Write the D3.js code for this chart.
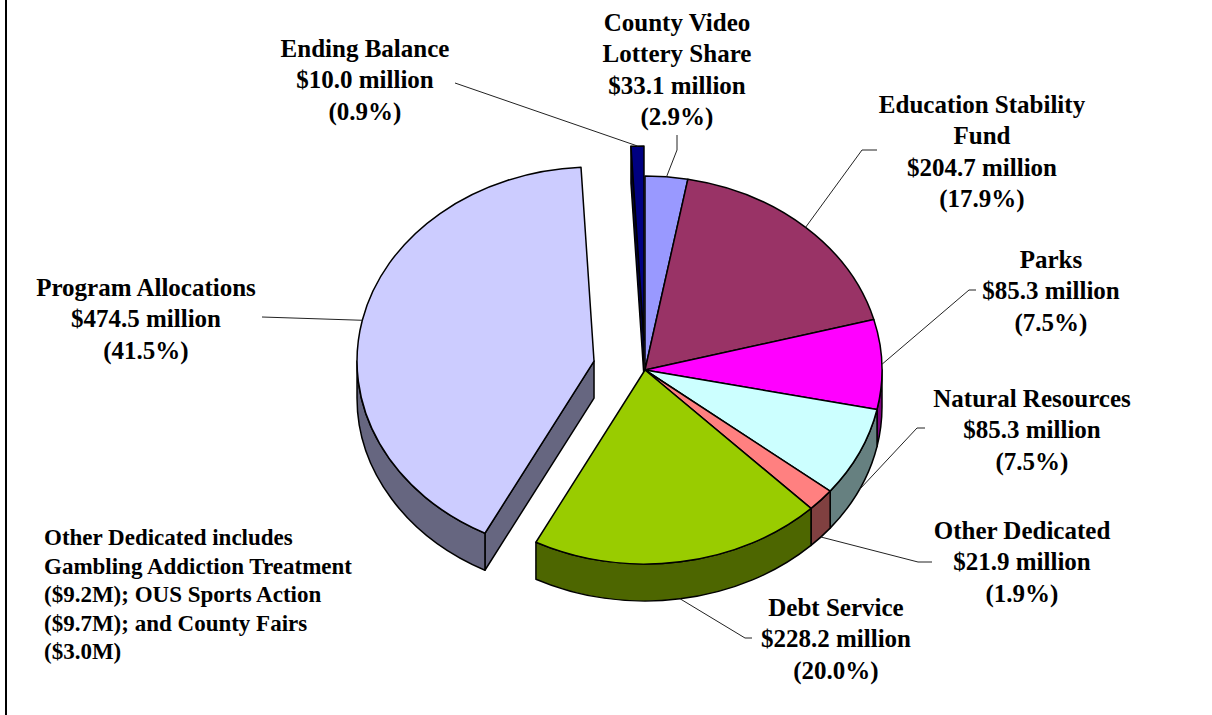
<!DOCTYPE html>
<html>
<head>
<meta charset="utf-8">
<script src="https://cdn.jsdelivr.net/npm/d3@7"></script>
<style>
  body { margin: 0; background: #fff; }
  svg { display: block; }
  text { font-family: "Liberation Serif", "Times New Roman", serif; font-weight: bold; fill: #000; }
</style>
</head>
<body>
<div id="chart"></div>
<script>
const width = 1212, height = 715;

// data
const categories = ["County Video Lottery Share", "Education Stability Fund", "Parks", "Natural Resources",
  "Other Dedicated", "Debt Service", "Program Allocations", "Ending Balance"];
const labelNames = [["County Video", "Lottery Share"], ["Education Stability", "Fund"], ["Parks"], ["Natural Resources"],
  ["Other Dedicated"], ["Debt Service"], ["Program Allocations"], ["Ending Balance"]];
const amounts = [33.1, 204.7, 85.3, 85.3, 21.9, 228.2, 474.5, 10.0];
const percents = [2.9, 17.9, 7.5, 7.5, 1.9, 20.0, 41.5, 0.9];
const footnote = ["Other Dedicated includes", "Gambling Addiction Treatment", "($9.2M); OUS Sports Action",
  "($9.7M); and County Fairs", "($3.0M)"];

// styles
const colors = ["#9999ff", "#993366", "#ff00ff", "#ccffff", "#ff8080", "#99cc00", "#ccccff", "#000080"];
const explode = [0, 0, 0, 0, 0, 0, 0.22, 0.155];

// label layout: text centre x, first line centre y, leader points from label side
const labelPos = [
  {x: 677, y: 22, pts: [[677, 135], [677, 150]]},
  {x: 982, y: 104, pts: [[877, 150], [862, 150]]},
  {x: 1051, y: 259, pts: [[976, 290], [969, 290]]},
  {x: 1032, y: 398, pts: [[925, 428], [917, 428]]},
  {x: 1022, y: 530, pts: [[932, 562], [918, 562]]},
  {x: 836, y: 607, pts: [[752, 638], [745, 638]]},
  {x: 146, y: 287, pts: [[262, 317]]},
  {x: 365, y: 48, pts: [[455, 83]]}
];

const cx = 645, cy = 370, rx = 237, ry = 194, depth = 37;
const lineH = 31.5;

const svg = d3.select("#chart").append("svg")
  .attr("width", width)
  .attr("height", height);

// left frame line
svg.append("line")
  .attr("x1", 6).attr("x2", 6).attr("y1", 0).attr("y2", height)
  .attr("stroke", "#000").attr("stroke-width", 2);

let pie = d3.pie().sort(null).value(d => d)(amounts);

function darker(c) {
  let r = d3.rgb(c);
  return d3.rgb(r.r * 0.5, r.g * 0.5, r.b * 0.5).formatHex();
}

let slices = pie.map((p, i) => {
  let mid = (p.startAngle + p.endAngle) / 2;
  let f = explode[i];
  return {
    i: i, a0: p.startAngle, a1: p.endAngle, mid: mid,
    ox: cx + f * rx * Math.sin(mid),
    oy: cy - f * ry * Math.cos(mid)
  };
});

function pt(s, a, dz) {
  return [s.ox + rx * Math.sin(a), s.oy - ry * Math.cos(a) + (dz || 0)];
}

function topPath(s) {
  let p0 = pt(s, s.a0), p1 = pt(s, s.a1);
  let large = (s.a1 - s.a0) > Math.PI ? 1 : 0;
  return `M${s.ox},${s.oy}L${p0}A${rx},${ry} 0 ${large} 1 ${p1}Z`;
}

function wallPath(s, a0, a1) {
  let p0 = pt(s, a0), p1 = pt(s, a1), q0 = pt(s, a0, depth), q1 = pt(s, a1, depth);
  let large = (a1 - a0) > Math.PI ? 1 : 0;
  return `M${p0}A${rx},${ry} 0 ${large} 1 ${p1}L${q1}A${rx},${ry} 0 ${large} 0 ${q0}Z`;
}

function facePath(s, a) {
  let p = pt(s, a);
  return `M${s.ox},${s.oy}L${p}L${p[0]},${p[1] + depth}L${s.ox},${s.oy + depth}Z`;
}

// collect side pieces
let walls = [];
let n = slices.length;
slices.forEach((s, i) => {
  // outer wall, front half only
  let w0 = Math.max(s.a0, Math.PI / 2), w1 = Math.min(s.a1, Math.PI * 1.5);
  if (w1 > w0) {
    let m = (w0 + w1) / 2;
    walls.push({d: wallPath(s, w0, w1), fill: darker(colors[i]), key: s.oy - ry * Math.cos(m)});
  }
  let prev = slices[(i - 1 + n) % n], next = slices[(i + 1) % n];
  if (explode[prev.i] !== explode[i] && Math.sin(s.a0) < 0) {
    walls.push({d: facePath(s, s.a0), fill: darker(colors[i]), key: s.oy - ry * Math.cos(s.a0) / 2});
  }
  if (explode[next.i] !== explode[i] && Math.sin(s.a1) > 0) {
    walls.push({d: facePath(s, s.a1), fill: darker(colors[i]), key: s.oy - ry * Math.cos(s.a1) / 2});
  }
});
walls.sort((a, b) => a.key - b.key);

let gPie = svg.append("g");

gPie.selectAll("path.wall")
  .data(walls)
  .enter()
  .append("path")
  .attr("class", "wall")
  .attr("d", d => d.d)
  .attr("fill", d => d.fill)
  .attr("stroke", "#000")
  .attr("stroke-width", 1.5)
  .attr("stroke-linejoin", "round");

gPie.selectAll("path.top")
  .data(slices)
  .enter()
  .append("path")
  .attr("class", "top")
  .attr("d", d => topPath(d))
  .attr("fill", d => colors[d.i])
  .attr("stroke", "#000")
  .attr("stroke-width", 1.5)
  .attr("stroke-linejoin", "round");

// leader lines
let gLines = svg.append("g");
slices.forEach((s, i) => {
  let anchor = pt(s, s.mid, Math.cos(s.mid) < 0 ? depth : 0);
  let pts = [anchor].concat(labelPos[i].pts.slice().reverse());
  gLines.append("path")
    .attr("d", d3.line()(pts))
    .attr("fill", "none")
    .attr("stroke", "#222")
    .attr("stroke-width", 1);
});

// labels
let gLabels = svg.append("g").style("font-size", "25px");
slices.forEach((s, i) => {
  let lines = labelNames[i].concat([`$${amounts[i].toFixed(1)} million`, `(${percents[i].toFixed(1)}%)`]);
  let t = gLabels.append("text")
    .attr("text-anchor", "middle");
  lines.forEach((l, k) => {
    t.append("tspan")
      .attr("x", labelPos[i].x)
      .attr("y", labelPos[i].y + k * lineH)
      .attr("dy", "0.35em")
      .text(l);
  });
});

// footnote
let fn = svg.append("text")
  .style("font-size", "23px");
footnote.forEach((l, k) => {
  fn.append("tspan")
    .attr("x", 44)
    .attr("y", 537 + k * 28.6)
    .attr("dy", "0.35em")
    .text(l);
});
</script>
</body>
</html>
